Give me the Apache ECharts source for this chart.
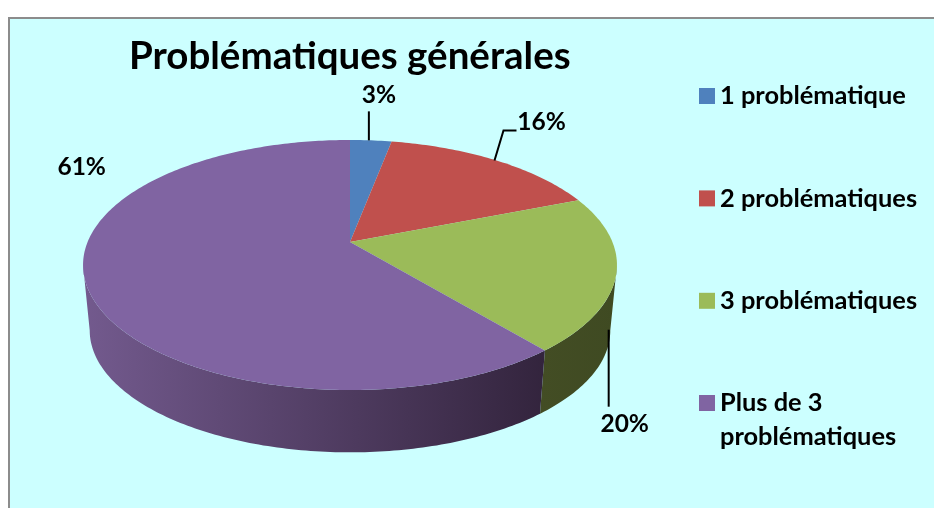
<!DOCTYPE html>
<html>
<head>
<meta charset="utf-8">
<style>
  html, body { margin: 0; padding: 0; background: #fff; }
  #main { width: 934px; height: 508px; }
</style>
<script src="https://cdn.jsdelivr.net/npm/echarts@6/dist/echarts.min.js"></script>
</head>
<body>
<div id="main"></div>
<script>
// data
const categories = ['1 problématique', '2 problématiques', '3 problématiques', 'Plus de 3\nproblématiques']
const values = [3, 16, 20, 61]

// style
const topColors = ['#4f81bd', '#c0504d', '#9bbb59', '#8064a2']
const wallFrom = ['#2f4d71', '#73302e', '#434d24', '#735a8e']
const wallTo = ['#2f4d71', '#73302e', '#3f4a22', '#33243d']
const fontName = 'Lato, "Noto Sans", sans-serif'

// pie projection : disc seen in perspective, apex is not the middle of the ellipse
const apex = [350, 242]
const scaleX = 262.4
const scaleY = 120.8
const persp = -0.184
const wallScale = 0.975
const wallDrop = 66

// the wall only shows between the right and left extremes of the rim (cos a = persp)
const wallFirst = Math.acos(persp) / (Math.PI * 2) * 100
const wallLast = 100 - wallFirst

// label position relative to rim at middle of the slice, leader line points too
const labelOffset = [[8, -45], [45, -38], [15, 85], [-5, -119]]
const leaders = [
  [[-2, 0], [-2, -29]],
  [[-2, 0], [7, -30], [20, -30]],
  [[-1, -9], [-1, 68]],
  null
]

function rim (pct) {
  const a = pct / 100 * Math.PI * 2
  const u = Math.sin(a)
  const v = -Math.cos(a)
  const d = 1 + persp * v
  return [scaleX * u / d, scaleY * v / d]
}
function topPt (pct) {
  const p = rim(pct)
  return [apex[0] + p[0], apex[1] + p[1]]
}
function wallPt (pct) {
  const p = rim(pct)
  return [apex[0] + p[0] * wallScale, apex[1] + p[1] * wallScale + wallDrop]
}
function arc (fn, from, to) {
  const pts = []
  for (let p = from; p < to; p += 0.25) pts.push(fn(p))
  pts.push(fn(to))
  return pts
}

function sliceItem (idx) {
  return function () {
    const start = values.slice(0, idx).reduce((a, b) => a + b, 0)
    const end = start + values[idx]
    const mid = (start + end) / 2
    const children = []

    const wallStart = Math.max(start, wallFirst)
    const wallEnd = Math.min(end, wallLast)
    if (wallStart < wallEnd) {
      children.push({
        type: 'polygon',
        shape: {
          points: arc(topPt, wallStart, wallEnd).concat(arc(wallPt, wallStart, wallEnd).reverse())
        },
        style: {
          fill: new echarts.graphic.LinearGradient(0, 0, 1, 0, [
            { offset: 0, color: wallFrom[idx] },
            { offset: 1, color: wallTo[idx] }
          ])
        }
      })
    }
    children.push({
      type: 'polygon',
      shape: { points: [apex].concat(arc(topPt, start, end)) },
      style: { fill: topColors[idx] }
    })

    // the 20% label hangs from the lower edge, the others from the top edge
    const anchor = idx === 2 ? wallPt(mid) : topPt(mid)
    if (leaders[idx]) {
      children.push({
        type: 'polyline',
        shape: { points: leaders[idx].map(o => [anchor[0] + o[0], anchor[1] + o[1]]) },
        style: { stroke: '#000', lineWidth: 2, fill: 'none' }
      })
    }
    children.push({
      type: 'text',
      x: anchor[0] + labelOffset[idx][0],
      y: anchor[1] + labelOffset[idx][1],
      style: {
        text: values[idx] + '%',
        fill: '#000',
        font: 'bold 24.5px ' + fontName,
        align: 'center',
        verticalAlign: 'middle'
      }
    })
    return { type: 'group', children: children }
  }
}

const legendText = { fontFamily: fontName, fontWeight: 'bold', fontSize: 25.4, color: '#000', lineHeight: 34 }

const option = {
  animation: false,
  backgroundColor: '#fff',
  title: {
    text: 'Problématiques générales',
    left: 129,
    top: 37,
    padding: 0,
    textStyle: { fontFamily: fontName, fontWeight: 'bold', fontSize: 38.5, color: '#000' }
  },
  legend: [
    {
      data: categories.slice(0, 3),
      orient: 'vertical',
      left: 699,
      top: 79,
      padding: 0,
      itemGap: 68.4,
      itemWidth: 16,
      itemHeight: 16,
      icon: 'rect',
      selectedMode: false,
      textStyle: legendText
    },
    {
      // blank first line puts the swatch in front of the "Plus de 3" line
      data: categories.slice(3),
      formatter: name => '\n' + name,
      orient: 'vertical',
      left: 699,
      top: 352,
      padding: 0,
      itemWidth: 16,
      itemHeight: 16,
      icon: 'rect',
      selectedMode: false,
      textStyle: legendText
    }
  ],
  graphic: [
    {
      type: 'rect',
      z: -1,
      silent: true,
      shape: { x: 9, y: 18, width: 940, height: 510 },
      style: { fill: '#ccffff', stroke: '#8c8c8c', lineWidth: 2 }
    }
  ],
  series: categories.map((name, i) => ({
    type: 'custom',
    name: name,
    coordinateSystem: 'none',
    silent: true,
    itemStyle: { color: topColors[i] },
    data: [values[i]],
    renderItem: sliceItem(i)
  }))
}

const myChart = echarts.init(document.getElementById('main'))
myChart.setOption(option)
</script>
</body>
</html>
